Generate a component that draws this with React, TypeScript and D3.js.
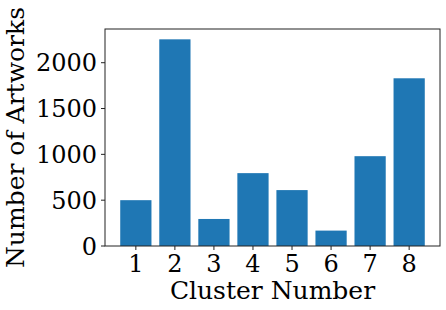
import * as d3 from 'd3';
import { useRef, useEffect } from 'react';

const clusters = ['1', '2', '3', '4', '5', '6', '7', '8'];
const counts = [500, 2255, 295, 795, 610, 168, 980, 1830];
const yTicks = [0, 500, 1000, 1500, 2000];

const W = 446;
const H = 310;
const margin = { top: 29, right: 6, bottom: 64, left: 105 };

export default function App() {
  const svgRef = useRef<SVGSVGElement>(null);

  useEffect(() => {
    const svg = d3.select(svgRef.current);
    svg.selectAll('*').remove();

    const x0 = margin.left;
    const x1 = W - margin.right;
    const y0 = H - margin.bottom;
    const y1 = margin.top;

    // numeric x like matplotlib: bars at 1..8, width 0.8, 5% margins
    const lo = 1 - 0.4;
    const hi = clusters.length + 0.4;
    const pad = (hi - lo) * 0.05;
    const x = d3.scaleLinear().domain([lo - pad, hi + pad]).range([x0, x1]);
    const ymax = d3.max(counts)! * 1.05;
    const y = d3.scaleLinear().domain([0, ymax]).range([y0, y1]);

    svg.append('g')
      .selectAll('rect')
      .data(counts)
      .join('rect')
      .attr('x', (d, i) => x(i + 1 - 0.4))
      .attr('width', x(1.4) - x(0.6))
      .attr('y', d => y(d))
      .attr('height', d => y0 - y(d))
      .attr('fill', '#1f77b4');

    svg.append('rect')
      .attr('x', x0)
      .attr('y', y1)
      .attr('width', x1 - x0)
      .attr('height', y0 - y1)
      .attr('fill', 'none')
      .attr('stroke', '#222')
      .attr('stroke-width', 1);

    const font = '"DejaVu Serif", serif';
    const tickSize = '24px';
    const labelSize = '25px';

    const yAxis = svg.append('g');
    yTicks.forEach(t => {
      yAxis.append('line')
        .attr('x1', x0 - 4).attr('x2', x0)
        .attr('y1', y(t)).attr('y2', y(t))
        .attr('stroke', '#222');
      yAxis.append('text')
        .attr('x', x0 - 8)
        .attr('y', y(t))
        .attr('dy', '0.36em')
        .attr('text-anchor', 'end')
        .style('font-family', font)
        .style('font-size', tickSize)
        .text(t);
    });

    const xAxis = svg.append('g');
    clusters.forEach((c, i) => {
      xAxis.append('line')
        .attr('x1', x(i + 1)).attr('x2', x(i + 1))
        .attr('y1', y0).attr('y2', y0 + 4)
        .attr('stroke', '#222');
      xAxis.append('text')
        .attr('x', x(i + 1))
        .attr('y', y0 + 26)
        .attr('text-anchor', 'middle')
        .style('font-family', font)
        .style('font-size', tickSize)
        .text(c);
    });

    svg.append('text')
      .attr('x', (x0 + x1) / 2)
      .attr('y', 299)
      .attr('text-anchor', 'middle')
      .style('font-family', font)
      .style('font-size', labelSize)
      .text('Cluster Number');

    svg.append('text')
      .attr('transform', `translate(24, ${(y0 + y1) / 2}) rotate(-90)`)
      .attr('text-anchor', 'middle')
      .style('font-family', font)
      .style('font-size', labelSize)
      .text('Number of Artworks');
  }, []);

  return (
    <svg
      ref={svgRef}
      width={W}
      height={H}
      style={{ position: 'absolute', left: 0, top: 0, background: '#fff' }}
    ></svg>
  );
}
